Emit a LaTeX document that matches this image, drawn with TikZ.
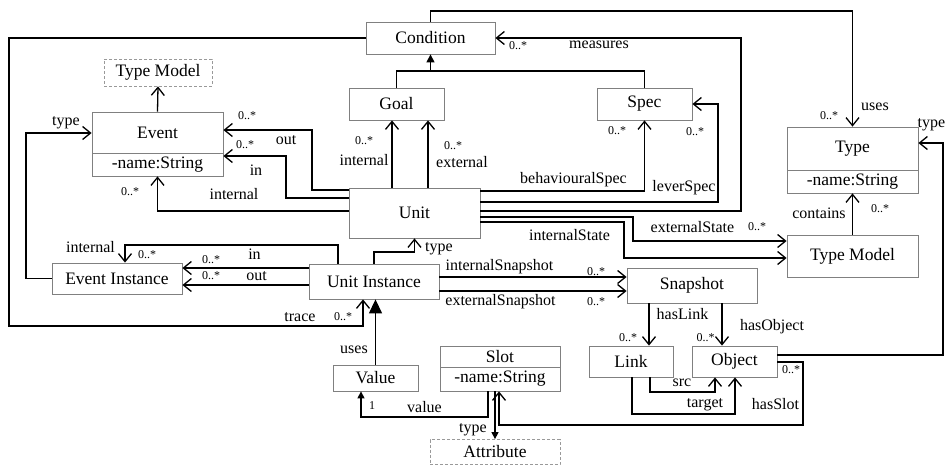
\documentclass[tikz,border=0pt]{standalone}
\usepackage{fontspec}
\setmainfont{Liberation Serif}
\newfontfamily\tnr{Liberation Serif}
\usetikzlibrary{arrows.meta}
\begin{document}
\begin{tikzpicture}[x=1pt,y=-1pt,
  box/.style={draw=black!50, line width=0.8pt, inner sep=0pt, anchor=center, font=\tnr\fontsize{17.5}{20}\selectfont},
  dbox/.style={box, draw=black!40, dash pattern=on 3pt off 2pt},
  ln/.style={line width=1.3pt, line join=miter},
  arr/.style={ln, -{Straight Barb[length=8pt,width=13pt]}},
  genarr/.style={ln, -{Triangle[length=8pt,width=8pt]}},
  farr/.style={ln, -{Triangle[length=7pt,width=7pt]}},
  bigtri/.style={ln, -{Triangle[length=14pt,width=13pt]}},
  lbl/.style={font=\tnr\fontsize{16}{18}\selectfont, inner sep=0pt, text height=0.7em, text depth=0.2em},
  mult/.style={font=\tnr\fontsize{12}{14}\selectfont, inner sep=0pt, text height=0.7em, text depth=0.2em}]
\fill[white] (0,0) rectangle (946,464);
\useasboundingbox (0,0) rectangle (946,464);

% nodes
\node[box, minimum width=129pt, minimum height=32pt] (cond) at (430.5,38) {Condition};
\node[dbox, minimum width=108pt, minimum height=27pt] (tmd) at (158,72.5) {Type Model};
\node[box, minimum width=131pt, minimum height=41pt] (evt) at (157.5,132.5) {Event};
\node[box, minimum width=131pt, minimum height=23pt] (evta) at (157.5,164.5) {-name:String};
\node[box, minimum width=95pt, minimum height=32pt] (goal) at (396.5,104) {Goal};
\node[box, minimum width=95pt, minimum height=32pt] (spec) at (644.5,104) {Spec};
\node[box, minimum width=131pt, minimum height=43pt] (type) at (852.5,148.5) {Type};
\node[box, minimum width=131pt, minimum height=23pt] (typea) at (852.5,181.5) {-name:String};
\node[box, minimum width=131pt, minimum height=42pt] (tm) at (852.5,256) {Type Model};
\node[box, minimum width=131pt, minimum height=50pt] (unit) at (414.5,213) {Unit};
\node[box, minimum width=130pt, minimum height=35pt] (ui) at (374,281.5) {Unit Instance};
\node[box, minimum width=130pt, minimum height=31pt] (ei) at (117,278.5) {Event Instance};
\node[box, minimum width=130pt, minimum height=35pt] (snap) at (692,285.5) {Snapshot};
\node[box, minimum width=84pt, minimum height=31pt] (link) at (631,361.5) {Link};
\node[box, minimum width=85pt, minimum height=31pt] (obj) at (734.5,361.5) {Object};
\node[box, minimum width=120pt, minimum height=21pt] (slot) at (500,356.5) {Slot};
\node[box, minimum width=120pt, minimum height=24pt] (slota) at (500,379) {-name:String};
\node[box, minimum width=85pt, minimum height=26pt] (val) at (375.5,378) {Value};
\node[dbox, minimum width=130pt, minimum height=25pt] (attr) at (495,452) {Attribute};

% connectors
\draw[arr] (cond.west) -- (9,38) -- (9,326) -- (363,326) -- (ui.south -| 363,0);
\draw[arr] (cond.north) -- (430.5,11) -- (852.5,11) -- (type.north);
\draw[arr] (unit.east |- 0,211) -- (741,211) -- (741,38) -- (cond.east);
\draw[arr] (unit.east |- 0,191) -| (spec.south);
\draw[arr] (unit.east |- 0,202) -- (718,202) |- (spec.east);
\draw[arr] (unit.east |- 0,217) -- (633,217) |- (tm.west |- 0,241);
\draw[arr] (unit.east |- 0,222) -- (624,222) |- (tm.west |- 0,258);
\draw[arr] (unit.north -| 392,0) -- (goal.south -| 392,0);
\draw[arr] (unit.north -| 428,0) -- (goal.south -| 428,0);
\draw[arr] (unit.west |- 0,190) -- (312,190) |- (evt.east |- 0,130);
\draw[arr] (unit.west |- 0,198) -- (286,198) |- (evta.east |- 0,156);
\draw[arr] (unit.west |- 0,211) -| (evta.south);
\draw[ln] (goal.north) |- (spec.north |- 0,71) -- (spec.north);
\draw[genarr] (430.5,71) -- (cond.south);
\draw[arr] (evt.north) -- (tmd.south);
\draw[arr] (ei.west) -- (26,278.5) |- (evt.west |- 0,133);
\draw[arr] (ui.west |- 0,268) -- (ei.east |- 0,268);
\draw[arr] (ui.west |- 0,285) -- (ei.east |- 0,285);
\draw[arr] (ui.north -| 338,0) -- (338,245) -| (ei.north -| 125,0);
\draw[arr] (ui.north) -- (374,252) -| (unit.south);
\draw[arr] (ui.east |- 0,277) -- (snap.west |- 0,277);
\draw[arr] (ui.east |- 0,291) -- (snap.west |- 0,291);
\draw[arr] (snap.south -| 649,0) -- (link.north -| 649,0);
\draw[arr] (snap.south -| 722,0) -- (obj.north -| 722,0);
\draw[arr] (link.south -| 650,0) -- (650,392) -| (obj.south -| 715,0);
\draw[arr] (link.south -| 632,0) -- (632,414) -| (obj.south -| 735,0);
\draw[arr] (obj.east |- 0,362) -- (803,362) -- (803,425) -| (slota.south -| 499,0);
\draw[arr] (obj.east |- 0,355) -- (943,355) |- (type.east |- 0,143);
\draw[farr] (slota.south -| 488,0) -- (488,417) -| (val.south -| 361,0);
\draw[farr] (slota.south -| 495,0) -- (attr.north -| 495,0);
\draw[bigtri] (val.north) -- (ui.south -| val.north);
\draw[arr] (tm.north) -- (typea.south);

% labels
\node[lbl] (l1) at (599,46) {measures};
\node[mult] (m1) at (518,47) {0..*};
\node[lbl] (l2) at (875,108) {uses};
\node[mult] (m2) at (829,117) {0..*};
\node[lbl] (l3) at (66,123) {type};
\node[mult] (m3) at (247,117) {0..*};
\node[lbl] (l4) at (286,142) {out};
\node[mult] (m4) at (245,146) {0..*};
\node[lbl] (l5) at (256,173) {in};
\node[lbl] (l6) at (234,197) {internal};
\node[mult] (m6) at (130,193) {0..*};
\node[mult] (m7) at (364,142) {0..*};
\node[lbl] (l7) at (364,163) {internal};
\node[mult] (m8) at (453,147) {0..*};
\node[lbl] (l8) at (462,165) {external};
\node[mult] (m9) at (617,132) {0..*};
\node[mult] (m10) at (695,133) {0..*};
\node[lbl] (l9) at (573.5,181) {behaviouralSpec};
\node[lbl] (l10) at (684,189) {leverSpec};
\node[lbl] (l11) at (569.5,238) {internalState};
\node[lbl] (l12) at (692.5,230) {externalState};
\node[mult] (m12) at (757,228) {0..*};
\node[lbl] (l13) at (819,216) {contains};
\node[mult] (m13) at (880,210) {0..*};
\node[lbl] (l14) at (931.5,125) {type};
\node[lbl] (l15) at (90.5,250) {internal};
\node[mult] (m15) at (147,256) {0..*};
\node[mult] (m16) at (211,261) {0..*};
\node[lbl] (l16) at (254.5,257) {in};
\node[mult] (m17) at (211,277) {0..*};
\node[lbl] (l17) at (256.5,278) {out};
\node[lbl] (l18) at (439,249) {type};
\node[lbl] (l19) at (499.5,268) {internalSnapshot};
\node[mult] (m19) at (596,273) {0..*};
\node[lbl] (l20) at (500.5,303) {externalSnapshot};
\node[mult] (m20) at (596,303) {0..*};
\node[lbl] (l21) at (300,319) {trace};
\node[mult] (m21) at (343,318) {0..*};
\node[lbl] (l22) at (354,351) {uses};
\node[lbl] (l23) at (682.5,317) {hasLink};
\node[mult] (m23) at (628,339) {0..*};
\node[lbl] (l24) at (772,328) {hasObject};
\node[mult] (m24) at (705.5,339) {0..*};
\node[lbl] (l25) at (682,384) {src};
\node[lbl] (l26) at (705,405) {target};
\node[mult] (m27) at (791,371) {0..*};
\node[lbl] (l27) at (775.5,407) {hasSlot};
\node[mult] (m28) at (372,407) {1};
\node[lbl] (l28) at (424.5,410) {value};
\node[lbl] (l29) at (473,430) {type};
\end{tikzpicture}
\end{document}
